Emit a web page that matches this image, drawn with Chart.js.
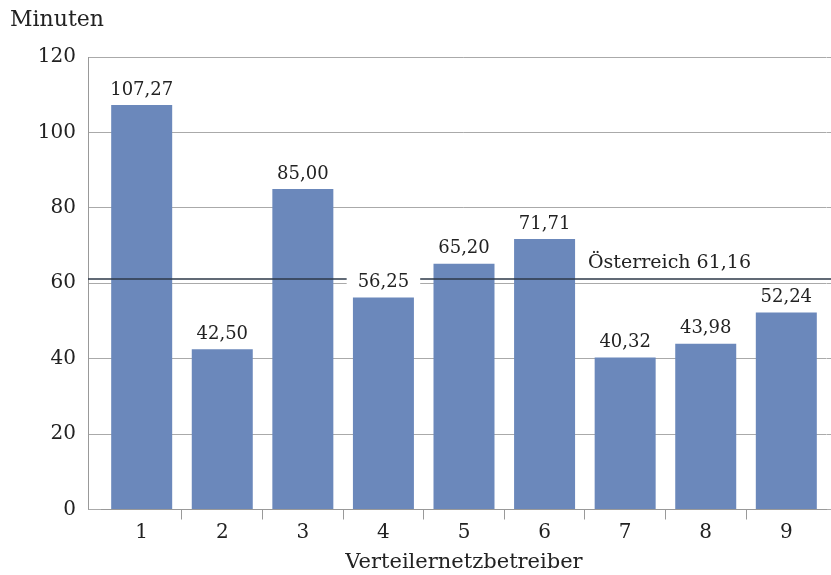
<!DOCTYPE html>
<html lang="de">
<head>
<meta charset="UTF-8">
<title>Verteilernetzbetreiber</title>
<script src="https://cdn.jsdelivr.net/npm/chart.js"></script>
<style>
    body { margin: 0; background: #fff; }
    canvas { display: block; }
</style>
</head>
<body>
<canvas id="chart" width="831" height="575"></canvas>
<script>
const categories = ['1', '2', '3', '4', '5', '6', '7', '8', '9'];
const minutes = [107.27, 42.50, 85.00, 56.25, 65.20, 71.71, 40.32, 43.98, 52.24];
const austriaAvg = 61.16;
const austriaLabel = 'Österreich';
const yTicks = [0, 20, 40, 60, 80, 100, 120];

const FONT = '"DejaVu Serif", serif';
const TEXT = '#222';
const yTickLen = 13.4; // Gitterlinien ragen links über den ersten Balkenbereich hinaus
const fmt = v => v.toFixed(2).replace('.', ',');

// Achsenlinie, Durchschnittslinie + Werte über den Balken
const labelsPlugin = {
    id: 'labels',
    afterDatasetsDraw(chart) {
        const ctx = chart.ctx;
        const area = chart.chartArea;
        const axisX = area.left - yTickLen;
        ctx.save();
        ctx.strokeStyle = '#999';
        ctx.lineWidth = 1;
        ctx.beginPath();
        ctx.moveTo(Math.round(axisX) + 0.5, area.top);
        ctx.lineTo(Math.round(axisX) + 0.5, area.bottom);
        ctx.stroke();

        const y = chart.scales.y.getPixelForValue(austriaAvg);
        ctx.strokeStyle = '#2c3848';
        ctx.lineWidth = 1.5;
        ctx.beginPath();
        ctx.moveTo(axisX, y);
        ctx.lineTo(chart.width, y);
        ctx.stroke();

        ctx.font = '19px ' + FONT;
        ctx.textBaseline = 'middle';
        ctx.textAlign = 'left';
        ctx.fillStyle = TEXT;
        ctx.fillText(austriaLabel + ' ' + fmt(austriaAvg), 588, y - 16);

        ctx.font = '18px ' + FONT;
        ctx.textAlign = 'center';
        chart.getDatasetMeta(0).data.forEach((bar, i) => {
            const txt = fmt(minutes[i]);
            const w = ctx.measureText(txt).width;
            const cy = bar.y - 15;
            ctx.fillStyle = '#fff';
            ctx.fillRect(bar.x - w / 2 - 11, cy - 12, w + 22, 24);
            ctx.fillStyle = TEXT;
            ctx.fillText(txt, bar.x, cy);
        });

        ctx.font = '22px ' + FONT;
        ctx.textAlign = 'left';
        ctx.fillText('Minuten', 10, 20);
        ctx.restore();
    }
};

new Chart(document.getElementById('chart'), {
    type: 'bar',
    data: {
        labels: categories,
        datasets: [{
            data: minutes,
            backgroundColor: '#6b88bb',
            borderWidth: 0,
            barPercentage: 0.757,
            categoryPercentage: 1
        }]
    },
    options: {
        responsive: false,
        animation: false,
        layout: { padding: { top: 57, right: 0, left: 0, bottom: 0 } },
        plugins: { legend: { display: false }, tooltip: { enabled: false } },
        scales: {
            x: {
                afterFit: s => { s.height = 65.5; },
                grid: {
                    drawOnChartArea: false,
                    tickLength: 10,
                    // keine Striche am Anfang und Ende der Achse
                    color: c => (c.type !== 'tick' || c.index === 0) ? 'rgba(0,0,0,0)' : '#999'
                },
                border: { color: '#999' },
                ticks: { color: TEXT, font: { family: FONT, size: 20 }, padding: 1 },
                title: {
                    display: true,
                    text: 'Verteilernetzbetreiber',
                    color: TEXT,
                    font: { family: FONT, size: 21 },
                    padding: 0
                }
            },
            y: {
                min: 0,
                max: 120,
                afterFit: s => { s.width = 101.4; },
                afterBuildTicks: s => { s.ticks = yTicks.map(v => ({ value: v })); },
                grid: { color: '#aaa', drawTicks: true, tickLength: yTickLen },
                border: { display: false },
                ticks: { color: TEXT, font: { family: FONT, size: 20 }, padding: 12 }
            },
            yRight: {
                position: 'right',
                min: 0,
                max: 120,
                afterFit: s => { s.width = 4.4; },
                afterBuildTicks: s => { s.ticks = yTicks.map(v => ({ value: v })); },
                grid: { color: '#aaa', drawOnChartArea: false, drawTicks: true, tickLength: 4.4 },
                border: { display: false },
                ticks: { display: false }
            }
        }
    },
    plugins: [labelsPlugin]
});
</script>
</body>
</html>
